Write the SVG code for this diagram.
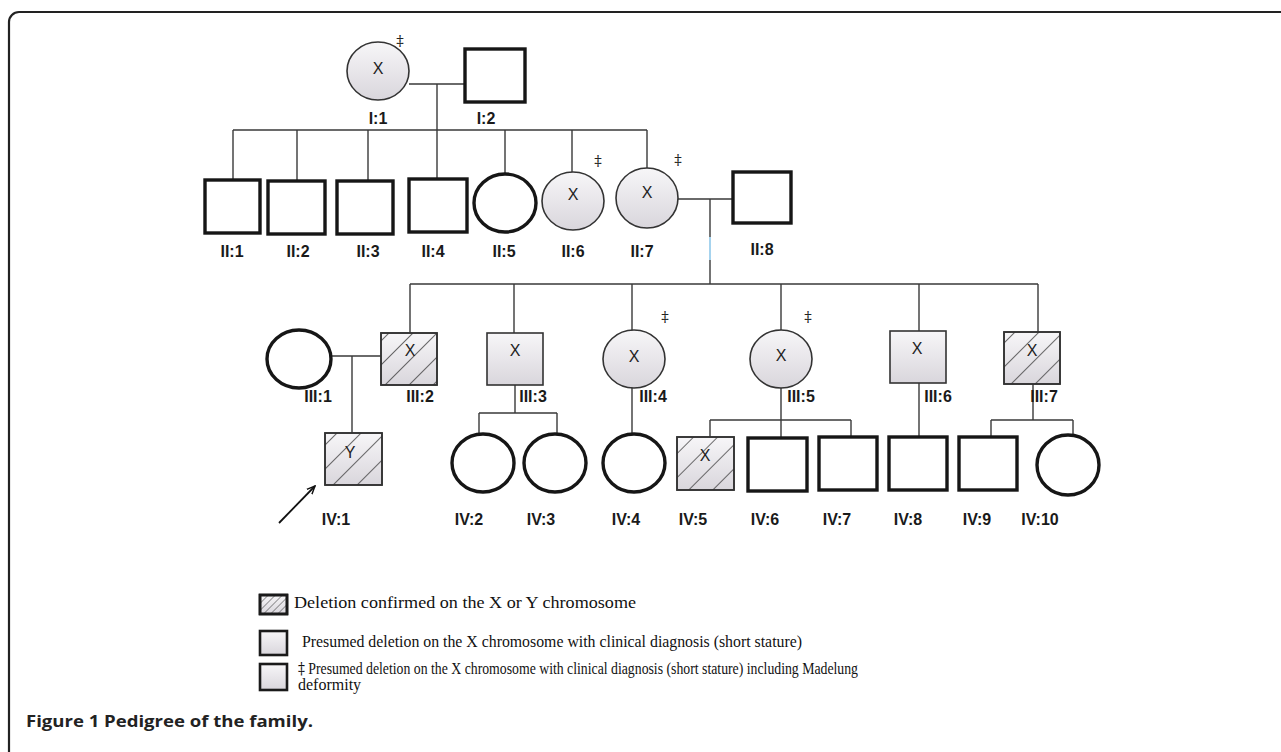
<svg xmlns="http://www.w3.org/2000/svg" width="1281" height="752" viewBox="0 0 1281 752">
<defs>
<linearGradient id="aff" x1="0" y1="0" x2="0" y2="1">
<stop offset="0" stop-color="#f7f6f8"/>
<stop offset="1" stop-color="#d9d6dc"/>
</linearGradient>
<pattern id="hatch" patternUnits="userSpaceOnUse" width="17" height="17" patternTransform="rotate(45)">
<line x1="0" y1="0" x2="0" y2="17" stroke="#222" stroke-width="1.3"/>
</pattern>
<pattern id="hatchS" patternUnits="userSpaceOnUse" width="5" height="5" patternTransform="rotate(45)">
<line x1="0" y1="0" x2="0" y2="5" stroke="#222" stroke-width="0.9"/>
</pattern>
<marker id="arr" viewBox="0 0 10 10" refX="9" refY="5" markerWidth="9" markerHeight="9" orient="auto" markerUnits="userSpaceOnUse">
<path d="M0,1 L9,5 L0,9" fill="none" stroke="#111" stroke-width="1.6"/>
</marker>
<style>
.un{fill:#fff;stroke:#161616;stroke-width:3.4}
.af{fill:url(#aff);stroke:#333;stroke-width:1.6}
.ht{fill:url(#hatch);stroke:#333;stroke-width:1.6}
.ln{stroke:#3a3a3a;stroke-width:1.4;fill:none}
.lbl{font-family:"Liberation Sans",Arial,sans-serif;font-weight:bold;font-size:16px;fill:#1a1a1a;text-anchor:middle}
.x{font-family:"Liberation Sans",Arial,sans-serif;font-size:16px;fill:#222;text-anchor:middle}
.dg{font-family:"DejaVu Serif",serif;font-size:15px;fill:#222;text-anchor:middle}
.leg{font-family:"Liberation Serif","Times New Roman",serif;font-size:16px;fill:#111}
.dgl{font-family:"DejaVu Serif",serif;fill:#111}
.lbox{fill:url(#aff);stroke:#1a1a1a;stroke-width:2.6}
</style>
</defs>
<rect width="1281" height="752" fill="#fff"/>
<path d="M9,752 V22 A10,10 0 0 1 19,12 H1281" fill="none" stroke="#222" stroke-width="2.2"/>

<g id="connectors">
<path class="ln" d="M409,84 H465 M437,84 V130 M233,130 H647 M233,130 V180 M297,130 V180 M368,130 V180 M437,130 V179 M505,130 V173 M572,130 V172 M647,130 V168"/>
<path class="ln" d="M678,199 H733 M710,199 V284"/>
<line x1="710" y1="237" x2="710" y2="260" stroke="#a6d3ee" stroke-width="2"/>
<path class="ln" d="M410,284 H1038 M410,284 V333 M514,284 V333 M632,284 V331 M781,284 V330 M919,284 V331 M1038,284 V332"/>
<path class="ln" d="M331,356 H381 M352,356 V433"/>
<path class="ln" d="M515,385 V413 M479,413 H557 M479,413 V434 M557,413 V434"/>
<path class="ln" d="M632,388 V434"/>
<path class="ln" d="M781,388 V438 M710,420 H851 M710,420 V437 M851,420 V437"/>
<path class="ln" d="M919,383 V437"/>
<path class="ln" d="M1033,384 V420 M991,420 H1073 M991,420 V437 M1073,420 V435"/>
<line x1="279" y1="523" x2="315" y2="486" stroke="#111" stroke-width="1.8" marker-end="url(#arr)"/>
</g>

<g id="I1"><ellipse class="af" cx="378" cy="71" rx="31" ry="29"/><text class="x" x="378" y="74">X</text><text class="dg" x="400" y="46">‡</text><text class="lbl" x="378" y="124">I:1</text></g>
<g id="I2"><rect class="un" x="465" y="49" width="60" height="53"/><text class="lbl" x="486" y="124">I:2</text></g>

<g id="II1"><rect class="un" x="205" y="180" width="55" height="53"/><text class="lbl" x="232" y="257">II:1</text></g>
<g id="II2"><rect class="un" x="268" y="181" width="57" height="53"/><text class="lbl" x="298" y="257">II:2</text></g>
<g id="II3"><rect class="un" x="337" y="181" width="56" height="53"/><text class="lbl" x="368" y="257">II:3</text></g>
<g id="II4"><rect class="un" x="409" y="179" width="58" height="53"/><text class="lbl" x="433" y="257">II:4</text></g>
<g id="II5"><ellipse class="un" cx="505" cy="203" rx="31" ry="29"/><text class="lbl" x="504" y="257">II:5</text></g>
<g id="II6"><ellipse class="af" cx="573" cy="201" rx="31" ry="29"/><text class="x" x="573" y="200">X</text><text class="dg" x="598" y="166">‡</text><text class="lbl" x="573" y="257">II:6</text></g>
<g id="II7"><ellipse class="af" cx="647" cy="198" rx="31" ry="30"/><text class="x" x="647" y="198">X</text><text class="dg" x="678" y="165">‡</text><text class="lbl" x="642" y="257">II:7</text></g>
<g id="II8"><rect class="un" x="733" y="172" width="58" height="51"/><text class="lbl" x="762" y="255">II:8</text></g>

<g id="III1"><ellipse class="un" cx="299" cy="359" rx="32" ry="29"/><text class="lbl" x="318" y="402">III:1</text></g>
<g id="III2"><rect class="af" x="381" y="333" width="56" height="52"/><rect class="ht" x="381" y="333" width="56" height="52"/><text class="x" x="410" y="356">X</text><text class="lbl" x="420" y="402">III:2</text></g>
<g id="III3"><rect class="af" x="487" y="333" width="56" height="52"/><text class="x" x="515" y="356">X</text><text class="lbl" x="533" y="402">III:3</text></g>
<g id="III4"><ellipse class="af" cx="634" cy="359" rx="31" ry="29"/><text class="x" x="634" y="362">X</text><text class="dg" x="665" y="322">‡</text><text class="lbl" x="653" y="402">III:4</text></g>
<g id="III5"><ellipse class="af" cx="781" cy="359" rx="31" ry="29"/><text class="x" x="781" y="361">X</text><text class="dg" x="808" y="322">‡</text><text class="lbl" x="801" y="402">III:5</text></g>
<g id="III6"><rect class="af" x="890" y="331" width="56" height="52"/><text class="x" x="917" y="354">X</text><text class="lbl" x="938" y="402">III:6</text></g>
<g id="III7"><rect class="af" x="1004" y="332" width="56" height="52"/><rect class="ht" x="1004" y="332" width="56" height="52"/><text class="x" x="1032" y="356">X</text><text class="lbl" x="1044" y="402">III:7</text></g>

<g id="IV1"><rect class="af" x="325" y="433" width="57" height="52"/><rect class="ht" x="325" y="433" width="57" height="52"/><text class="x" x="350" y="458">Y</text><text class="lbl" x="336" y="525">IV:1</text></g>
<g id="IV2"><ellipse class="un" cx="483" cy="463" rx="31" ry="29"/><text class="lbl" x="469" y="525">IV:2</text></g>
<g id="IV3"><ellipse class="un" cx="555" cy="463" rx="31" ry="29"/><text class="lbl" x="541" y="525">IV:3</text></g>
<g id="IV4"><ellipse class="un" cx="634" cy="463" rx="31" ry="29"/><text class="lbl" x="626" y="525">IV:4</text></g>
<g id="IV5"><rect class="af" x="677" y="437" width="57" height="53"/><rect class="ht" x="677" y="437" width="57" height="53"/><text class="x" x="705" y="461">X</text><text class="lbl" x="693" y="525">IV:5</text></g>
<g id="IV6"><rect class="un" x="748" y="438" width="59" height="53"/><text class="lbl" x="765" y="525">IV:6</text></g>
<g id="IV7"><rect class="un" x="819" y="437" width="58" height="53"/><text class="lbl" x="837" y="525">IV:7</text></g>
<g id="IV8"><rect class="un" x="889" y="437" width="58" height="53"/><text class="lbl" x="908" y="525">IV:8</text></g>
<g id="IV9"><rect class="un" x="959" y="437" width="58" height="53"/><text class="lbl" x="977" y="525">IV:9</text></g>
<g id="IV10"><ellipse class="un" cx="1068" cy="465" rx="31" ry="30"/><text class="lbl" x="1040" y="525">IV:10</text></g>

<g id="legend">
<rect class="lbox" x="260" y="595" width="27" height="19"/><rect x="260" y="595" width="27" height="19" fill="url(#hatchS)" stroke="#1a1a1a" stroke-width="2.6"/>
<text class="leg" x="294" y="608" textLength="342" lengthAdjust="spacingAndGlyphs">Deletion confirmed on the X or Y chromosome</text>
<rect class="lbox" x="260" y="631" width="27" height="24"/>
<text class="leg" x="302" y="647" textLength="500" lengthAdjust="spacingAndGlyphs">Presumed deletion on the X chromosome with clinical diagnosis (short stature)</text>
<rect class="lbox" x="260" y="664" width="27" height="26"/>
<text class="leg" x="298" y="674" textLength="560" lengthAdjust="spacingAndGlyphs"><tspan class="dgl">‡</tspan> Presumed deletion on the X chromosome with clinical diagnosis (short stature) including Madelung</text>
<text class="leg" x="298" y="690">deformity</text>
</g>

<text x="26" y="727" font-family="'Open Sans','Liberation Sans',Arial,sans-serif" font-weight="bold" font-size="16" fill="#222" textLength="287" lengthAdjust="spacingAndGlyphs">Figure 1 Pedigree of the family.</text>
</svg>
